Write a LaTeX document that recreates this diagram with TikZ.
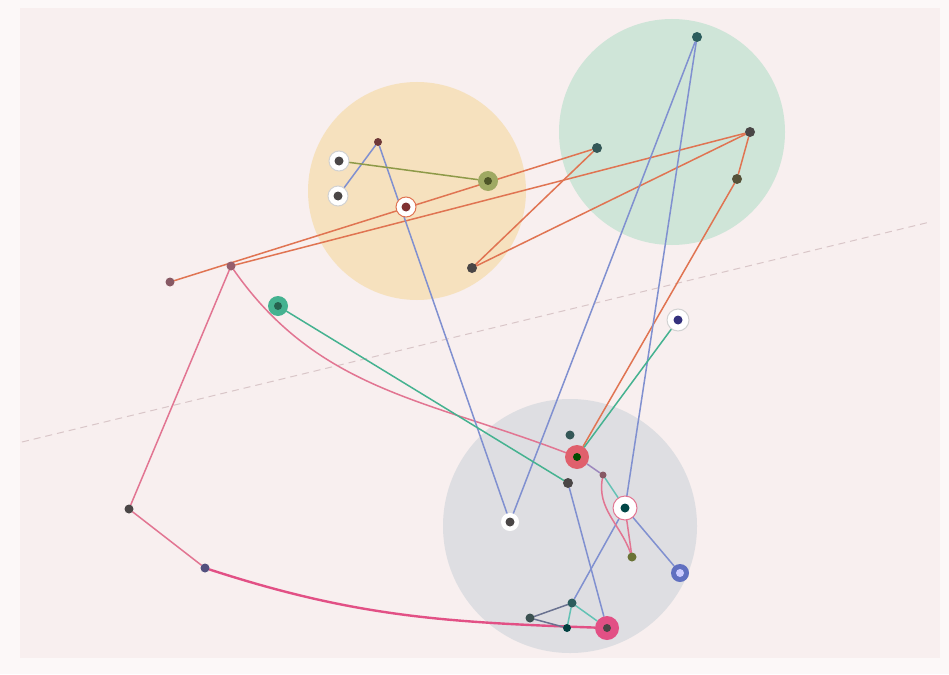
\documentclass[tikz,border=0pt]{standalone}
\usetikzlibrary{calc}
\pgfdeclarelayer{bgl}
\pgfdeclarelayer{edgel}
\pgfsetlayers{bgl,edgel,main}
\definecolor{bgc}{HTML}{FCF8F8}
\definecolor{paperc}{HTML}{F8EFEF}
\definecolor{yellowc}{HTML}{F6E1BE}
\definecolor{greenbg}{HTML}{CFE5D8}
\definecolor{graybg}{HTML}{DEDEE2}
\definecolor{dashc}{HTML}{D9C6C8}
\definecolor{redc}{HTML}{E07452}
\definecolor{pinkc}{HTML}{E27592}
\definecolor{deeppink}{HTML}{E25085}
\definecolor{bluec}{HTML}{8090D0}
\definecolor{greenc}{HTML}{45B290}
\definecolor{olivec}{HTML}{8E9A48}
\definecolor{tealc}{HTML}{62C2B4}
\definecolor{graybluec}{HTML}{6A7290}
\definecolor{darkc}{HTML}{4A4646}
\definecolor{snode}{HTML}{E0606C}
\definecolor{xnode}{HTML}{6070C0}
\tikzset{
  x=1pt, y=-1pt,
  dotn/.style={circle, inner sep=0pt, minimum size=9pt, fill=#1},
  ringn/.style 2 args={circle, inner sep=0pt, minimum size=20pt, fill=white,
    draw=#2, line width=1pt,
    path picture={\fill[#1] (path picture bounding box.center) circle (4.5pt);}},
  bign/.style 2 args={circle, inner sep=0pt, minimum size=20pt, fill=#2,
    path picture={\fill[#1] (path picture bounding box.center) circle (4pt);}},
  edge/.style={line width=1.5pt, line cap=round}
}
\begin{document}
\begin{tikzpicture}
\useasboundingbox (0,0) rectangle (949,674);
\begin{pgfonlayer}{bgl}
\fill[bgc] (0,0) rectangle (949,674);
\fill[paperc] (20,8) rectangle (940,658);
\fill[yellowc] (417,191) circle (109);
\fill[greenbg] (672,132) circle (113);
\fill[graybg] (570,526) circle (127);
\coordinate (d1) at (22,442);
\coordinate (d2) at (930,222);
\draw[dashc, line width=1pt, dash pattern=on 7pt off 5pt] (d1) -- (d2);
\end{pgfonlayer}
% nodes
\node[dotn=darkc!80!red, minimum size=8pt] (A) at (378,142) {};
\node[ringn={darkc}{gray!35}] (B) at (339,161) {};
\node[ringn={darkc}{gray!35}] (C) at (338,196) {};
\node[bign={olivec!55!black}{olivec!85}, minimum size=20pt] (D) at (488,181) {};
\node[ringn={darkc!70!red}{redc}] (E) at (406,207) {};
\node[dotn=darkc, minimum size=10pt] (F) at (472,268) {};
\node[dotn=darkc!70!teal, minimum size=10pt] (G) at (597,148) {};
\node[dotn=darkc!60!teal, minimum size=10pt] (H) at (697,37) {};
\node[dotn=darkc, minimum size=10pt] (I) at (750,132) {};
\node[dotn=darkc!80!olive, minimum size=10pt] (J) at (737,179) {};
\node[dotn=darkc!60!pinkc] (K) at (170,282) {};
\node[dotn=darkc!50!pinkc] (L) at (231,266) {};
\node[bign={greenc!55!black}{greenc}, minimum size=20pt] (M) at (278,306) {};
\node[ringn={darkc!70!blue}{gray!35}, minimum size=22pt] (N) at (678,320) {};
\node[dotn=darkc] (O) at (129,509) {};
\node[dotn=darkc!70!blue!60!gray] (P) at (205,568) {};
\node[ringn={darkc}{white}, minimum size=17pt] (Q) at (510,522) {};
\node[dotn=darkc!70!teal] (R) at (570,435) {};
\node[bign={green!30!black}{snode}, minimum size=24pt] (S) at (577,457) {};
\node[dotn=darkc!60!pinkc, minimum size=7pt] (T) at (603,475) {};
\node[dotn=darkc, minimum size=10pt] (U) at (568,483) {};
\node[ringn={teal!55!black}{pinkc}, minimum size=24pt] (V) at (625,508) {};
\node[dotn=olivec!75!black] (W) at (632,557) {};
\node[bign={blue!20!white}{xnode}, minimum size=18pt] (X) at (680,573) {};
\node[dotn=darkc!60!teal] (Y) at (572,603) {};
\node[dotn=darkc!80!teal] (Z) at (530,618) {};
\node[dotn=teal!50!black, minimum size=8pt] (AA) at (567,628) {};
\node[bign={darkc}{deeppink}, minimum size=24pt] (BB) at (607,628) {};
% edges (behind nodes)
\begin{pgfonlayer}{edgel}
\draw[edge, redc] (K) -- (G);
\draw[edge, redc] (L) -- (I);
\draw[edge, redc] (F) -- (G);
\draw[edge, redc] (F) -- (I);
\draw[edge, redc] (I) -- (J);
\draw[edge, redc] (J) -- (S);
\draw[edge, pinkc] (L) -- (O);
\draw[edge, pinkc] (L) to[out=-55, in=159] (S);
\draw[edge, pinkc] (O) -- (P);
\draw[edge, deeppink, line width=2.4pt] (P) to[out=-18, in=178] (BB);
\draw[edge, bluec] (A) -- (C);
\draw[edge, bluec] (A) -- (Q);
\draw[edge, bluec] (H) -- (Q);
\draw[edge, bluec] (H) -- (V);
\draw[edge, bluec] (V) -- (Y);
\draw[edge, bluec] (U) -- (BB);
\draw[edge, bluec] (V) -- (X);
\draw[edge, bluec!70!pinkc] (S) -- (T);
\draw[edge, tealc] (T) -- (V);
\draw[edge, greenc] (M) -- (U);
\draw[edge, greenc] (S) -- (N);
\draw[edge, olivec] (B) -- (D);
\draw[edge, pinkc] (T) to[out=-100, in=110] (W);
\draw[edge, pinkc] (V) -- (W);
\draw[edge, graybluec] (Z) -- (Y);
\draw[edge, graybluec] (Z) -- (AA);
\draw[edge, tealc] (Y) -- (AA);
\draw[edge, tealc] (Y) -- (BB);
\end{pgfonlayer}
\end{tikzpicture}
\end{document}
